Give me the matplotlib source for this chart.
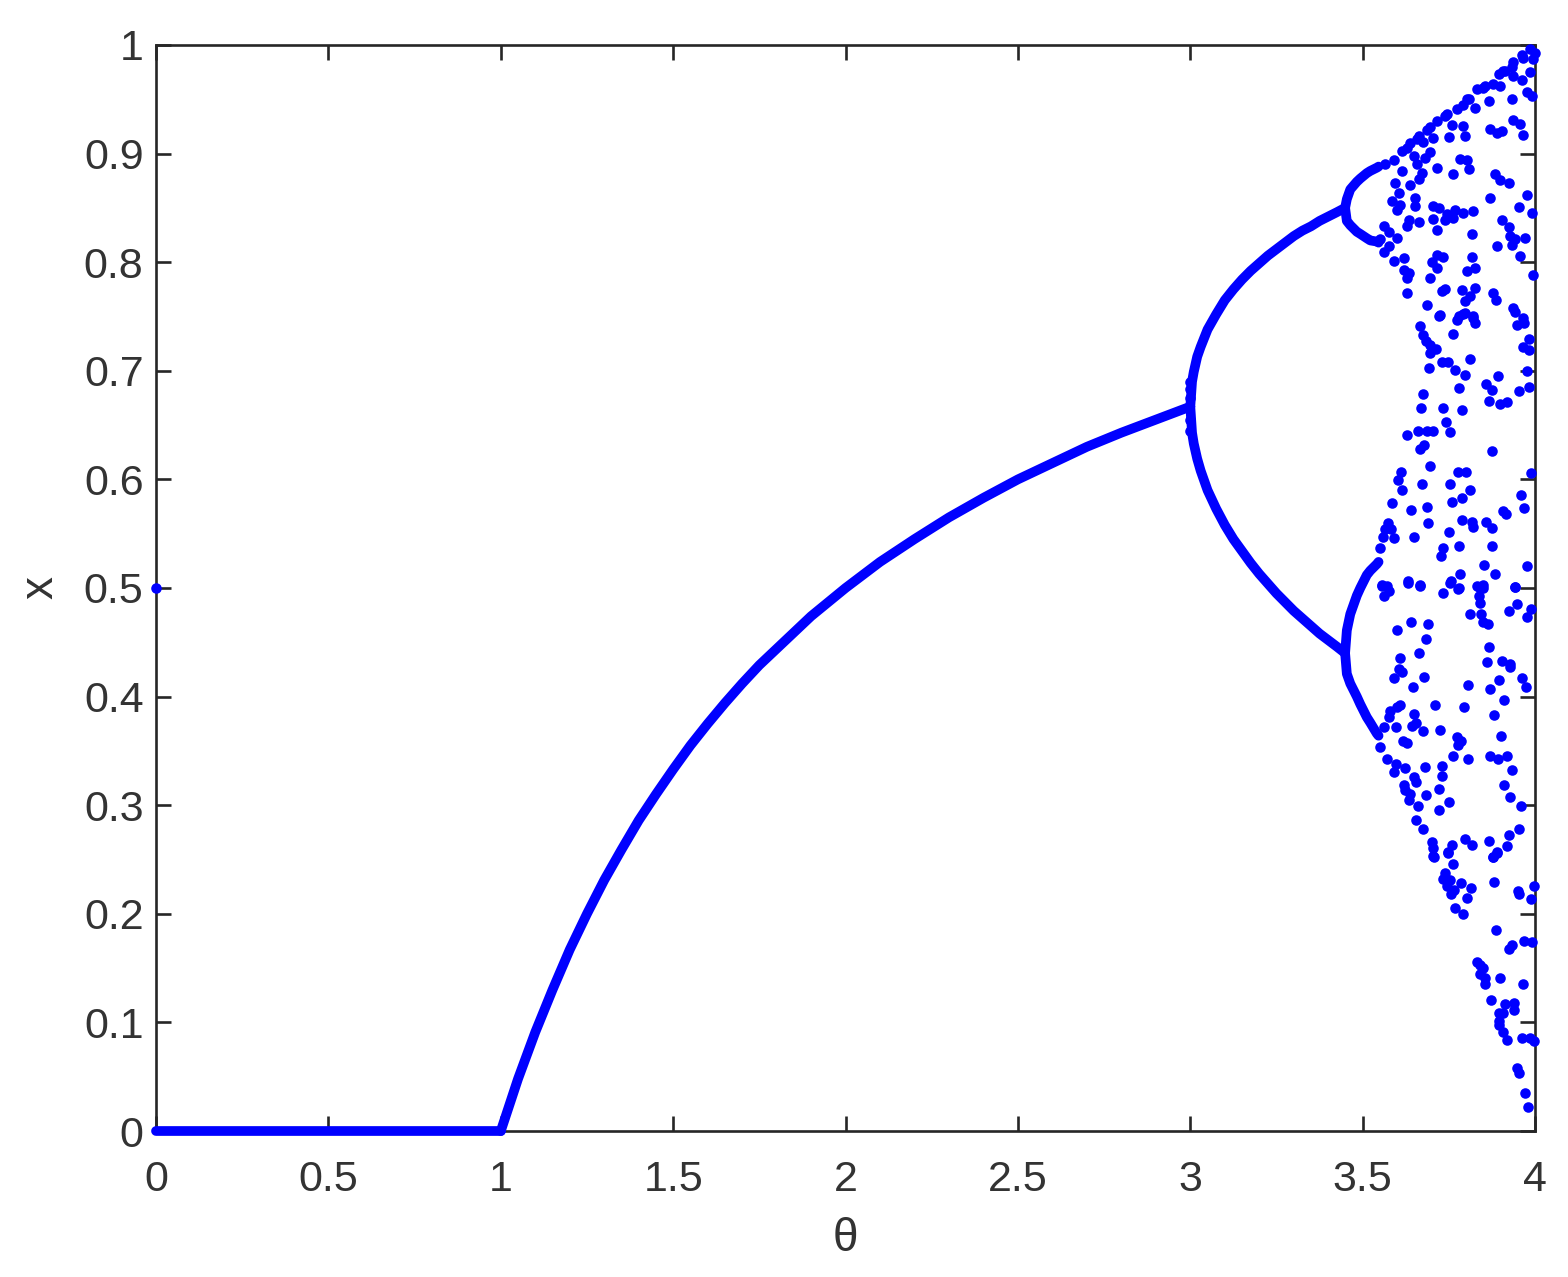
import numpy as np
import matplotlib
matplotlib.use('Agg')
import matplotlib.pyplot as plt

plt.rcParams['font.family'] = ['Liberation Sans', 'DejaVu Sans']

# ---- values ----
# x = 0 branch (theta 0..1) and the lone start point
zero_theta = [0.0, 1.0]
zero_x = [0.0, 0.0]
start_theta = [0.0]
start_x = [0.5]

# period-1 branch
fixed_theta = [1.00, 1.05, 1.10, 1.15, 1.20, 1.25, 1.30, 1.35, 1.40, 1.45, 1.50, 1.55,
               1.60, 1.65, 1.70, 1.75, 1.80, 1.85, 1.90, 1.95, 2.00, 2.10, 2.20, 2.30,
               2.40, 2.50, 2.60, 2.70, 2.80, 2.90, 3.00]
fixed_x = [0.000, 0.048, 0.091, 0.130, 0.167, 0.200, 0.231, 0.259, 0.286, 0.310, 0.333, 0.355,
           0.375, 0.394, 0.412, 0.429, 0.444, 0.459, 0.474, 0.487, 0.500, 0.524, 0.545, 0.565,
           0.583, 0.600, 0.615, 0.630, 0.643, 0.655, 0.667]

# period-2 branches
p2_theta = [3.000, 3.005, 3.010, 3.020, 3.030, 3.050, 3.075, 3.100, 3.125, 3.150, 3.175,
            3.200, 3.225, 3.250, 3.275, 3.300, 3.325, 3.350, 3.375, 3.400, 3.425, 3.449]
p2_upper = [0.667, 0.690, 0.699, 0.713, 0.722, 0.738, 0.752, 0.765, 0.775, 0.784, 0.792,
            0.799, 0.806, 0.812, 0.818, 0.824, 0.829, 0.833, 0.838, 0.842, 0.846, 0.850]
p2_lower = [0.667, 0.643, 0.633, 0.619, 0.608, 0.590, 0.573, 0.558, 0.545, 0.534, 0.523,
            0.513, 0.504, 0.495, 0.487, 0.479, 0.472, 0.465, 0.458, 0.452, 0.446, 0.440]

# period-4 branches
p4_theta = [3.449, 3.454, 3.464, 3.483, 3.493, 3.512, 3.522, 3.541, 3.546]
p4_a = [0.850, 0.858, 0.867, 0.874, 0.877, 0.882, 0.884, 0.887, 0.888]
p4_b = [0.850, 0.838, 0.834, 0.828, 0.826, 0.822, 0.820, 0.819, 0.818]
p4_c = [0.440, 0.461, 0.476, 0.493, 0.500, 0.512, 0.516, 0.522, 0.524]
p4_d = [0.440, 0.421, 0.412, 0.400, 0.393, 0.381, 0.376, 0.366, 0.364]

# loose points near theta = 3
near3_theta = [3.0, 3.0, 3.0, 3.0, 3.0]
near3_x = [0.645, 0.655, 0.675, 0.683, 0.690]

# scattered points of the chaotic region
chaos_theta = [
    3.986, 4.000, 3.961, 3.995, 3.937, 3.932, 3.908, 3.894, 3.986, 3.961, 3.937, 3.879,
    3.855, 3.831, 3.899, 3.976, 3.990, 3.932, 3.865, 3.802, 3.826, 3.773, 3.744, 3.715,
    3.937, 3.957, 3.870, 3.889, 3.903, 3.966, 3.759, 3.792, 3.797, 3.749, 3.696, 3.705,
    3.676, 3.657, 3.628, 3.614, 3.696, 3.681, 3.648, 3.590, 3.565, 3.614, 3.657, 3.715,
    3.783, 3.802, 3.807, 3.763, 3.884, 3.899, 3.923, 3.672, 3.662, 3.638, 3.594, 3.604,
    3.585, 3.609, 3.599, 3.652, 3.652, 3.870, 3.976, 3.952, 3.990, 3.705, 3.720, 3.744,
    3.768, 3.792, 3.821, 3.705, 3.739, 3.763, 3.633, 3.628, 3.662, 3.715, 3.903, 3.923,
    3.928, 3.942, 3.932, 3.889, 3.971, 3.817, 3.561, 3.575, 3.599, 3.551, 3.575, 3.561,
    3.590, 3.619, 3.619, 3.633, 3.628, 3.696, 3.715, 3.734, 3.701, 3.715, 3.817, 3.802,
    3.826, 3.995, 3.957, 3.628, 3.730, 3.739, 3.788, 3.826, 3.879, 3.887, 3.797, 3.812,
    3.686, 3.937, 3.725, 3.778, 3.797, 3.821, 3.966,
    3.638, 3.662, 3.686, 3.739, 3.792, 3.807, 3.850, 3.913, 3.966,
    3.722, 3.773, 3.792, 3.821, 3.826, 3.942, 3.947, 3.969, 3.667, 3.675, 3.763, 3.684,
    3.696, 3.713, 3.696, 3.981, 3.964, 3.983, 3.730, 3.746, 3.812, 3.693, 3.768, 3.797,
    3.978, 3.858, 3.892, 3.876, 3.780, 3.675, 3.952, 3.983, 3.669, 3.734, 3.788, 3.867,
    3.899, 3.918, 3.742, 3.752, 3.628, 3.659, 3.686, 3.705, 3.679, 3.665, 3.874, 3.696,
    3.611, 3.775, 3.800, 3.988, 3.601, 3.672, 3.752, 3.613, 3.812, 3.789, 3.959, 3.760,
    3.585, 3.639, 3.687, 3.969, 3.908, 3.915, 3.688, 3.574, 3.565, 3.582, 3.789, 3.818,
    3.821, 3.858, 3.874, 3.749, 3.558, 3.590, 3.648, 3.549, 3.733, 3.726, 3.778, 3.874,
    3.853, 3.978, 3.781, 3.883, 3.630, 3.665, 3.756, 3.778, 3.831, 3.850, 3.943, 3.556,
    3.570,
    3.630, 3.665, 3.754, 3.776, 3.734, 3.556, 3.575, 3.561, 3.836, 3.850, 3.836, 3.841,
    3.942, 3.947, 3.925, 3.988, 3.976, 3.810, 3.843, 3.850, 3.863, 3.641, 3.689, 3.599,
    3.685, 3.865, 3.607, 3.663, 3.862, 3.903, 3.928, 3.928, 3.604, 3.614, 3.592, 3.679,
    3.896, 3.870, 3.645, 3.805, 3.961, 3.974, 3.911, 3.711, 3.795, 3.609, 3.599, 3.580,
    3.575, 3.650, 3.882, 3.561, 3.596, 3.643, 3.655, 3.676, 3.725, 3.901, 3.617, 3.628,
    3.773, 3.785, 3.776, 3.763, 3.805, 3.868, 3.892, 3.918, 3.596, 3.623, 3.681, 3.731,
    3.731, 3.649, 3.655, 3.933, 3.911, 3.928, 3.619, 3.623, 3.638, 3.634, 3.685, 3.720,
    3.751, 3.661, 3.722, 3.958, 3.656, 3.676, 3.952, 3.923, 3.701, 3.705, 3.760, 3.747,
    3.798, 3.817, 3.866, 3.918, 3.889, 3.879, 3.707, 3.551, 3.570, 3.590,
    3.705, 3.746, 3.763, 3.739, 3.734, 3.754, 3.744, 3.765, 3.756, 3.785, 3.815, 3.804,
    3.769, 3.790, 3.877, 3.889, 3.882, 3.950, 3.952, 3.998, 3.989, 3.888, 3.925, 3.932,
    3.969, 3.992, 3.831, 3.841, 3.848, 3.841, 3.855, 3.854, 3.899, 3.965, 3.873, 3.913,
    3.939, 3.940, 3.894, 3.906, 3.896, 3.896, 3.908, 3.920, 3.962, 3.986, 3.997, 3.949,
    3.954, 3.972, 3.979,
]
chaos_x = [
    0.996, 0.993, 0.991, 0.987, 0.984, 0.980, 0.976, 0.973, 0.975, 0.968, 0.971, 0.964,
    0.962, 0.959, 0.962, 0.957, 0.953, 0.950, 0.948, 0.950, 0.942, 0.941, 0.936, 0.930,
    0.931, 0.927, 0.923, 0.919, 0.921, 0.917, 0.926, 0.925, 0.916, 0.915, 0.924, 0.914,
    0.911, 0.913, 0.905, 0.902, 0.901, 0.896, 0.898, 0.894, 0.890, 0.884, 0.890, 0.887,
    0.895, 0.894, 0.886, 0.881, 0.881, 0.876, 0.873, 0.882, 0.877, 0.871, 0.873, 0.864,
    0.856, 0.853, 0.848, 0.859, 0.852, 0.859, 0.862, 0.851, 0.845, 0.852, 0.850, 0.844,
    0.848, 0.845, 0.847, 0.840, 0.839, 0.841, 0.839, 0.833, 0.837, 0.830, 0.839, 0.832,
    0.824, 0.821, 0.816, 0.815, 0.822, 0.826, 0.833, 0.828, 0.822, 0.821, 0.815, 0.809,
    0.801, 0.804, 0.793, 0.790, 0.785, 0.785, 0.807, 0.805, 0.800, 0.795, 0.805, 0.792,
    0.795, 0.788, 0.806, 0.772, 0.773, 0.775, 0.774, 0.776, 0.772, 0.765, 0.764, 0.769,
    0.761, 0.758, 0.751, 0.750, 0.753, 0.750, 0.749,
    0.910, 0.916, 0.922, 0.935, 0.945, 0.950, 0.960, 0.976, 0.988,
    0.750, 0.747, 0.752, 0.749, 0.744, 0.754, 0.742, 0.744, 0.741, 0.733, 0.734, 0.727,
    0.724, 0.720, 0.716, 0.729, 0.722, 0.719, 0.708, 0.708, 0.711, 0.703, 0.701, 0.696,
    0.700, 0.688, 0.695, 0.682, 0.684, 0.679, 0.681, 0.685, 0.666, 0.666, 0.664, 0.672,
    0.669, 0.671, 0.653, 0.644, 0.641, 0.645, 0.645, 0.645, 0.632, 0.628, 0.626, 0.612,
    0.607, 0.607, 0.607, 0.606, 0.599, 0.596, 0.596, 0.590, 0.590, 0.583, 0.586, 0.579,
    0.578, 0.572, 0.575, 0.574, 0.571, 0.568, 0.560, 0.560, 0.554, 0.554, 0.563, 0.561,
    0.556, 0.561, 0.555, 0.552, 0.547, 0.546, 0.547, 0.537, 0.537, 0.529, 0.539, 0.539,
    0.521, 0.520, 0.513, 0.513, 0.506, 0.503, 0.506, 0.500, 0.502, 0.503, 0.501, 0.503,
    0.502,
    0.505, 0.502, 0.505, 0.499, 0.495, 0.502, 0.497, 0.493, 0.501, 0.500, 0.493, 0.486,
    0.501, 0.485, 0.479, 0.481, 0.473, 0.476, 0.476, 0.469, 0.467, 0.469, 0.467, 0.461,
    0.453, 0.446, 0.436, 0.440, 0.432, 0.433, 0.430, 0.427, 0.425, 0.423, 0.417, 0.418,
    0.415, 0.407, 0.409, 0.411, 0.417, 0.409, 0.397, 0.392, 0.390, 0.392, 0.390, 0.387,
    0.381, 0.384, 0.383, 0.372, 0.372, 0.373, 0.376, 0.368, 0.369, 0.364, 0.359, 0.357,
    0.363, 0.359, 0.355, 0.345, 0.343, 0.345, 0.343, 0.345, 0.338, 0.334, 0.335, 0.336,
    0.327, 0.326, 0.321, 0.332, 0.319, 0.308, 0.319, 0.314, 0.310, 0.305, 0.309, 0.315,
    0.303, 0.299, 0.296, 0.299, 0.286, 0.278, 0.278, 0.273, 0.266, 0.261, 0.263, 0.256,
    0.269, 0.263, 0.267, 0.262, 0.256, 0.252, 0.252, 0.354, 0.343, 0.331,
    0.253, 0.257, 0.246, 0.238, 0.232, 0.231, 0.226, 0.222, 0.218, 0.228, 0.224, 0.215,
    0.205, 0.200, 0.252, 0.257, 0.229, 0.221, 0.218, 0.226, 0.214, 0.185, 0.168, 0.171,
    0.175, 0.174, 0.156, 0.153, 0.150, 0.145, 0.141, 0.135, 0.141, 0.135, 0.121, 0.117,
    0.118, 0.111, 0.109, 0.109, 0.101, 0.098, 0.091, 0.084, 0.086, 0.086, 0.083, 0.058,
    0.053, 0.035, 0.022,
]

xticks = [0, 0.5, 1, 1.5, 2, 2.5, 3, 3.5, 4]
xtick_labels = ['0', '0.5', '1', '1.5', '2', '2.5', '3', '3.5', '4']
yticks = [0, 0.1, 0.2, 0.3, 0.4, 0.5, 0.6, 0.7, 0.8, 0.9, 1]
ytick_labels = ['0', '0.1', '0.2', '0.3', '0.4', '0.5', '0.6', '0.7', '0.8', '0.9', '1']

blue = (0, 0, 1)
ink = '#262626'

fig = plt.figure(figsize=(15.68, 12.77), dpi=100)
ax = fig.add_axes([0.0995, 0.1143, 0.8795, 0.8505])

line_kw = dict(color=blue, lw=7.0, solid_capstyle='round', solid_joinstyle='round',
               zorder=3, clip_on=False)
ax.plot(zero_theta, zero_x, **line_kw)
ax.plot(fixed_theta, fixed_x, **line_kw)
ax.plot(p2_theta, p2_upper, **line_kw)
ax.plot(p2_theta, p2_lower, **line_kw)
for branch in (p4_a, p4_b, p4_c, p4_d):
    ax.plot(p4_theta, branch, **line_kw)

dot_kw = dict(linestyle='none', marker='o', markersize=7.6, markeredgewidth=0,
              color=blue, zorder=3, clip_on=False)
ax.plot(start_theta, start_x, **dot_kw)
ax.plot(near3_theta, near3_x, **dot_kw)
ax.plot(chaos_theta, chaos_x, **dot_kw)

ax.set_xlim(0, 4)
ax.set_ylim(0, 1)
ax.set_xticks(xticks)
ax.set_xticklabels(xtick_labels)
ax.set_yticks(yticks)
ax.set_yticklabels(ytick_labels)

for s in ax.spines.values():
    s.set_linewidth(1.9)
    s.set_color(ink)
ax.tick_params(direction='in', length=11, width=1.9, color=ink, labelcolor='#333333',
               labelsize=31, top=True, right=True)
ax.tick_params(axis='x', pad=21)
ax.tick_params(axis='y', pad=9)

ax.set_xlabel('θ', fontsize=33, color='#333333', labelpad=12)
ax.set_ylabel('x', fontsize=33, color='#333333', labelpad=15)

plt.savefig('out.png', dpi=100)
